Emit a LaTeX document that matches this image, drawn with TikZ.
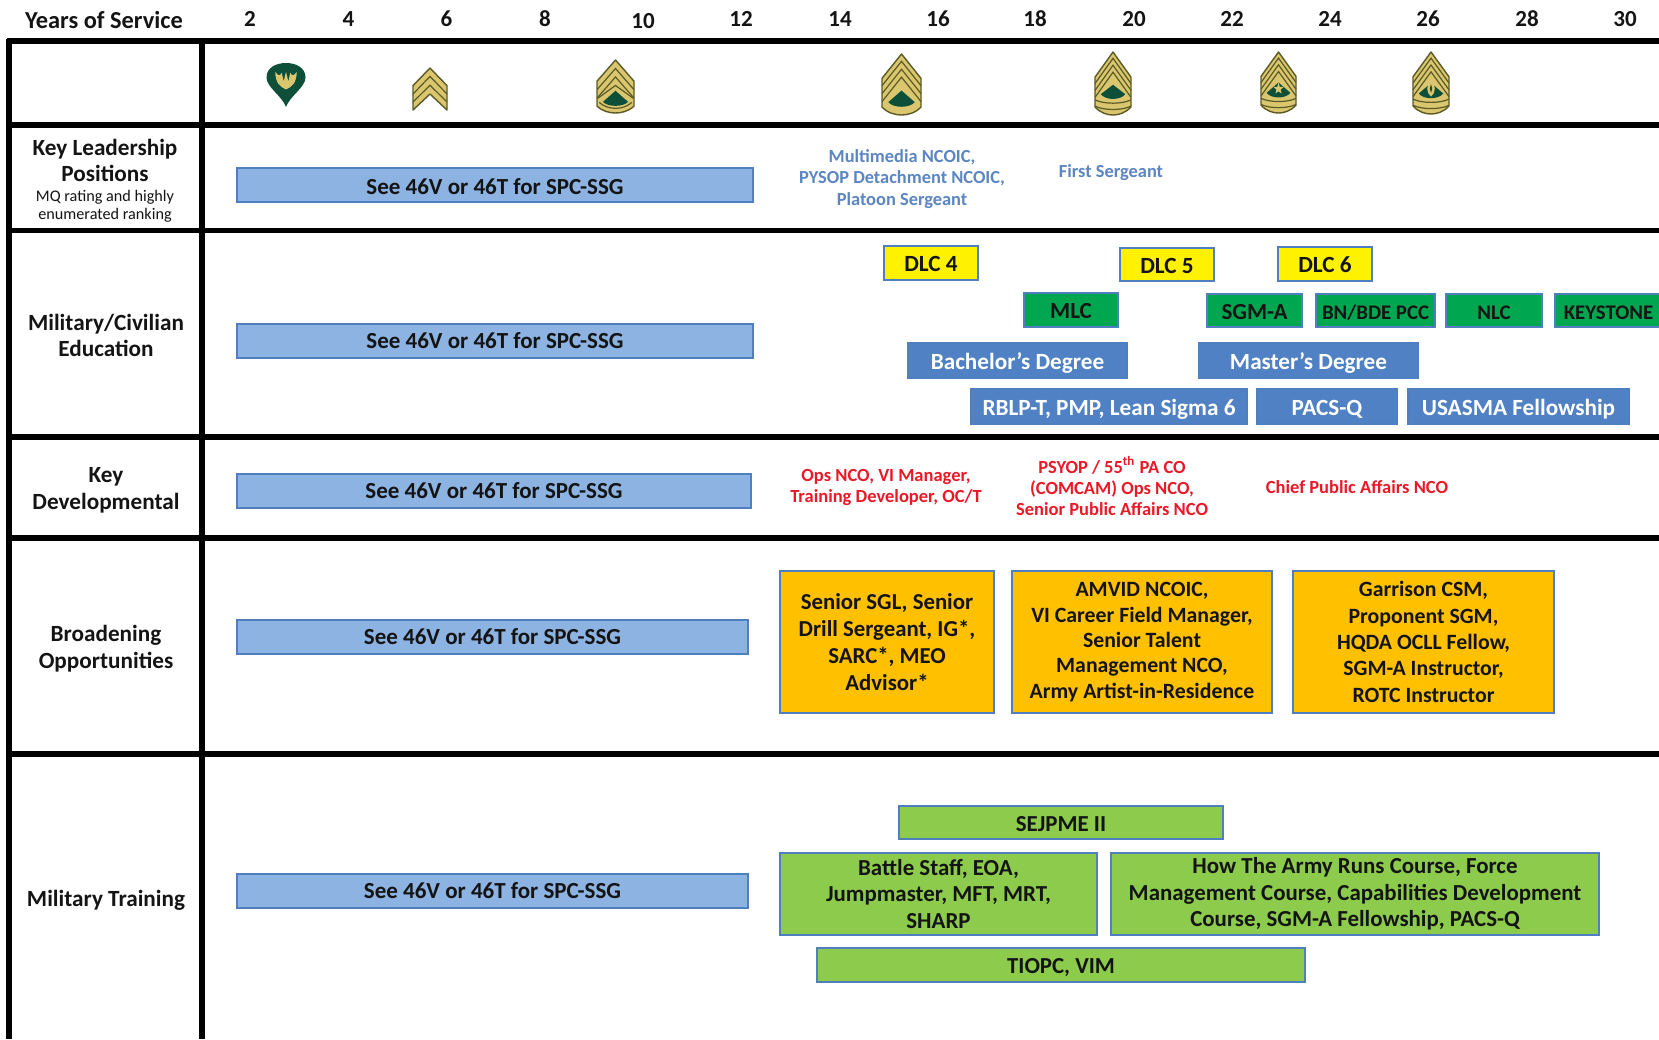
\documentclass[tikz,border=0pt]{standalone}
\usepackage{fontspec}
\setmainfont{Carlito}
\definecolor{barfill}{HTML}{8DB3E2}
\definecolor{edgeblue}{HTML}{4F7FBF}
\definecolor{midblue}{HTML}{4F81C4}
\definecolor{labblue}{HTML}{5B86C2}
\definecolor{dgreen}{HTML}{00A650}
\definecolor{lgreen}{HTML}{8CCB4B}
\definecolor{gold}{HTML}{D9C66E}
\definecolor{olive}{HTML}{5C5A25}
\definecolor{armygreen}{HTML}{0E4F3A}
\definecolor{txt}{HTML}{141414}
\definecolor{amber}{HTML}{FFC000}
\definecolor{redtxt}{HTML}{EB1928}
\tikzset{
  boxbase/.style={draw=edgeblue,line width=1pt,inner sep=0pt,outer sep=0pt,align=center,text=txt},
  oneline/.style={text height=8.6pt,text depth=0pt},
  bar/.style={boxbase,text height=7.4pt,text depth=0pt,fill=barfill,font=\bfseries\fontsize{11.5}{13}\selectfont},
  bartop/.style={bar,text height=9.2pt},
  dlc/.style={boxbase,oneline,fill=yellow,font=\bfseries\fontsize{11.6}{13}\selectfont},
  dg/.style={boxbase,oneline,fill=dgreen,font=\bfseries\fontsize{11.5}{13}\selectfont},
  dgs/.style={boxbase,oneline,fill=dgreen,font=\bfseries\fontsize{10.4}{13}\selectfont},
  deg/.style={boxbase,oneline,fill=midblue,text=white,font=\bfseries\fontsize{11.6}{13}\selectfont},
  orana/.style={boxbase,fill=amber,font=\bfseries\fontsize{11.4}{13.4}\selectfont},
  oranb/.style={boxbase,fill=amber,font=\bfseries\fontsize{10.9}{12.7}\selectfont},
  oranc/.style={boxbase,fill=amber,font=\bfseries\fontsize{10.9}{13.2}\selectfont},
  grn/.style={boxbase,fill=lgreen,font=\bfseries\fontsize{11.45}{13.2}\selectfont},
  grnone/.style={grn,oneline},
  year/.style={text=txt,inner sep=0pt,font=\bfseries\fontsize{11.5}{13}\selectfont},
  yearlab/.style={text=txt,inner sep=0pt,font=\bfseries\fontsize{12.2}{13}\selectfont},
  side/.style={text=txt,inner sep=0pt,align=center,font=\bfseries\fontsize{11.6}{13.4}\selectfont},
  sidesm/.style={text=txt,inner sep=0pt,align=center,font=\fontsize{8.1}{8.9}\selectfont},
  bluelab/.style={text=labblue,inner sep=0pt,align=center,font=\bfseries\fontsize{9.2}{10.6}\selectfont},
  redlab/.style={text=redtxt,inner sep=0pt,align=center,font=\bfseries\fontsize{9.25}{10.6}\selectfont},
  rule/.style={line width=2.6pt,black},
  badge/.style={fill=gold,draw=olive,line width=0.7pt,line join=round},
  stripe/.style={draw=olive,line width=0.6pt},
}
% name x1 y1 x2 y2 style text
\newcommand{\bx}[7]{\node[#6,minimum width={(#4-#2)*0.5pt},minimum height={(#5-#3)*0.5pt}] (#1) at ({(#2+#4)/2},{(#3+#5)/2}) {#7};}
% cx top bottom halfwidth
\newcommand{\shieldstart}[4]{\pgfmathsetmacro{\shh}{(#3-#2)*(-0.5)}\pgfmathsetmacro{\shw}{#4*0.5}\begin{scope}[shift={(#1,#2)},x=\shw pt,y=\shh pt]
  \path[badge] (0,0) -- (1,.40) -- (1,.87) .. controls (.7,.97) and (.3,1) .. (0,1) .. controls (-.3,1) and (-.7,.97) .. (-1,.87) -- (-1,.40) -- cycle;}
\newcommand{\chev}[1]{\draw[stripe] (-1,.40+#1) -- (0,#1) -- (1,.40+#1);}
\newcommand{\rocker}[1]{\draw[stripe] (-1,#1) .. controls (-.5,#1+.07) and (.5,#1+.07) .. (1,#1);}
\newcommand{\lens}[2]{\path[fill=armygreen] (-.68,#2-.03) -- (0,#1) -- (.68,#2-.03) .. controls (.4,#2+.07) and (-.4,#2+.07) .. cycle;}
\begin{document}
\begin{tikzpicture}[x=0.5pt,y=-0.5pt]
\useasboundingbox (0,0) rectangle (1659,1039);
\fill[white] (0,0) rectangle (1659,1039);
% table rules
\draw[rule] (7,41) -- (1659,41);
\draw[rule] (7,125) -- (1659,125);
\draw[rule] (7,230.5) -- (1659,230.5);
\draw[rule] (7,437) -- (1659,437);
\draw[rule] (7,538) -- (1659,538);
\draw[rule] (7,754) -- (1659,754);
\draw[rule] (9,38.5) -- (9,1039);
\draw[rule] (202,38.5) -- (202,1039);
% header
\node[yearlab] (yos) at (104,20.5) {Years of Service};
\node[year] (y2) at (250,19) {2};
\node[year] (y4) at (348.5,19) {4};
\node[year] (y6) at (446.5,19) {6};
\node[year] (y8) at (545,19) {8};
\node[year] (y10) at (643,21) {10};
\node[year] (y12) at (741,19) {12};
\node[year] (y14) at (840,19) {14};
\node[year] (y16) at (938,19) {16};
\node[year] (y18) at (1035,19) {18};
\node[year] (y20) at (1134,19) {20};
\node[year] (y22) at (1232,19) {22};
\node[year] (y24) at (1330,19) {24};
\node[year] (y26) at (1428,19) {26};
\node[year] (y28) at (1527,19) {28};
\node[year] (y30) at (1625,19) {30};
% specialist badge
\begin{scope}[shift={(286,63)},x=9.75pt,y=-22pt]
  \path[fill=armygreen] (0,1) .. controls (-.2,.75) and (-1,.55) .. (-1,.33) .. controls (-1,.1) and (-.5,0) .. (0,0) .. controls (.5,0) and (1,.1) .. (1,.33) .. controls (1,.55) and (.2,.75) .. (0,1) -- cycle;
  \path[fill=gold] (-.55,.2) .. controls (-.55,.45) and (-.3,.55) .. (0,.6) .. controls (.3,.55) and (.55,.45) .. (.55,.2) .. controls (.4,.3) and (.3,.3) .. (.22,.22) -- (.12,.42) -- (0,.2) -- (-.12,.42) -- (-.22,.22) .. controls (-.3,.3) and (-.4,.3) .. (-.55,.2) -- cycle;
\end{scope}
% sergeant
\begin{scope}[shift={(430,68)},x=8.5pt,y=-21pt]
  \path[badge] (0,0) -- (1,.42) -- (1,1) -- (0,.62) -- (-1,1) -- (-1,.42) -- cycle;
  \draw[stripe] (-1,.62) -- (0,.2) -- (1,.62);
  \draw[stripe] (-1,.81) -- (0,.41) -- (1,.81);
\end{scope}
% staff sergeant / SFC
\shieldstart{615.5}{60}{113}{18.5}
  \chev{.16}\chev{.32}
  \draw[stripe] (-.95,.72) -- (0,.48) -- (.95,.72);
  \lens{.58}{.82}
  \draw[stripe] (-.88,.80) .. controls (-.4,.95) and (.4,.95) .. (.88,.80);
\end{scope}
\shieldstart{901.5}{54}{115}{19.5}
  \chev{.12}\chev{.25}\chev{.38}
  \lens{.60}{.82}
\end{scope}
\shieldstart{1113}{52}{115}{18}
  \chev{.10}\chev{.21}\chev{.32}
  \lens{.52}{.70}
  \rocker{.76}\rocker{.86}
\end{scope}
\shieldstart{1278.5}{52}{113}{17.5}
  \chev{.10}\chev{.21}\chev{.32}
  \lens{.50}{.70}
  \rocker{.76}\rocker{.86}
  \path[fill=gold] (0,.50) -- (.07,.57) -- (.30,.57) -- (.12,.62) -- (.18,.68) -- (0,.645) -- (-.18,.68) -- (-.12,.62) -- (-.30,.57) -- (-.07,.57) -- cycle;
\end{scope}
\shieldstart{1431}{52}{114}{18}
  \chev{.10}\chev{.21}\chev{.32}
  \lens{.50}{.70}
  \rocker{.76}\rocker{.86}
  \path[fill=gold] (0,.46) .. controls (.28,.52) and (.28,.66) .. (0,.72) .. controls (-.28,.66) and (-.28,.52) .. (0,.46) -- cycle;
  \path[fill=armygreen] (0,.52) .. controls (.09,.56) and (.09,.62) .. (0,.66) .. controls (-.09,.62) and (-.09,.56) .. (0,.52) -- cycle;
\end{scope}
% side labels
\node[side] (kl) at (105,160.5) {Key Leadership\\Positions};
\node[sidesm] (mq) at (105,206) {MQ rating and highly\\enumerated ranking};
\node[side] (me) at (106,335.5) {Military/Civilian\\Education};
\node[side] (kd) at (106,490.5) {Key\\Developmental};
\node[side] (bo) at (106,648.5) {Broadening\\Opportunities};
\node[side] (mt) at (106,900) {Military Training};
% SPC-SSG bars
\bx{b1}{237}{168}{753}{202}{bartop}{See 46V or 46T for SPC-SSG}
\bx{b2}{237}{324}{753}{358}{bar}{See 46V or 46T for SPC-SSG}
\bx{b3}{237}{474}{751}{508}{bar}{See 46V or 46T for SPC-SSG}
\bx{b4}{237}{620}{748}{654}{bar}{See 46V or 46T for SPC-SSG}
\bx{b5}{237}{874}{748}{908}{bar}{See 46V or 46T for SPC-SSG}
% key leadership labels
\node[bluelab] (kl1) at (902,179) {Multimedia NCOIC,\\PYSOP Detachment NCOIC,\\Platoon Sergeant};
\node[bluelab] (kl2) at (1111,173) {First Sergeant};
% education
\bx{d4}{884}{246}{978}{280}{dlc}{DLC 4}
\bx{d5}{1120}{248}{1214}{281}{dlc}{DLC 5}
\bx{d6}{1278}{247}{1372}{281}{dlc}{DLC 6}
\bx{mlc}{1024}{293}{1118}{327}{dg}{MLC}
\bx{sgma}{1207}{294}{1302}{327}{dg}{SGM-A}
\bx{bn}{1316}{294}{1435}{327}{dgs}{BN/BDE PCC}
\bx{nlc}{1446}{294}{1542}{327}{dgs}{NLC}
\bx{key}{1555}{294}{1662}{327}{dgs}{KEYSTONE}
\bx{bach}{908}{343}{1127}{378}{deg}{Bachelor’s Degree}
\bx{mast}{1199}{343}{1418}{378}{deg}{Master’s Degree}
\bx{rblp}{971}{389}{1247}{424}{deg}{RBLP-T, PMP, Lean Sigma 6}
\bx{pacs}{1257}{389}{1397}{424}{deg}{PACS-Q}
\bx{usa}{1408}{389}{1629}{424}{deg}{USASMA Fellowship}
% key developmental
\node[redlab] (r1) at (886,487.5) {Ops NCO, VI Manager,\\Training Developer, OC/T};
\node[redlab] (r2) at (1112,486) {PSYOP / 55\textsuperscript{th} PA CO\\(COMCAM) Ops NCO,\\Senior Public Affairs NCO};
\node[redlab] (r3) at (1357,487.5) {Chief Public Affairs NCO};
% broadening
\bx{o1}{780}{571}{994}{713}{orana}{Senior SGL, Senior\\Drill Sergeant, IG*,\\SARC*, MEO\\Advisor*}
\bx{o2}{1012}{571}{1272}{713}{oranb}{AMVID NCOIC,\\VI Career Field Manager,\\Senior Talent\\Management NCO,\\Army Artist-in-Residence}
\bx{o3}{1293}{571}{1554}{713}{oranc}{Garrison CSM,\\Proponent SGM,\\HQDA OCLL Fellow,\\SGM-A Instructor,\\ROTC Instructor}
% training
\bx{g1}{899}{806}{1223}{839}{grnone}{SEJPME II}
\bx{g2}{780}{853}{1097}{935}{grn}{Battle Staff, EOA,\\Jumpmaster, MFT, MRT,\\SHARP}
\bx{g3}{1111}{853}{1599}{935}{grn}{How The Army Runs Course, Force\\Management Course, Capabilities Development\\Course, SGM-A Fellowship, PACS-Q}
\bx{g4}{817}{948}{1305}{982}{grnone}{TIOPC, VIM}
\end{tikzpicture}
\end{document}
